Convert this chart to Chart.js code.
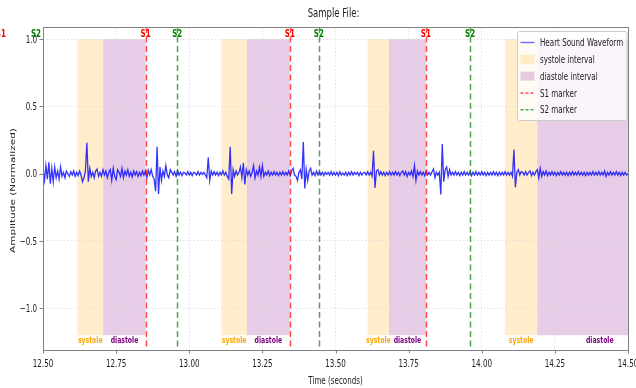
<!DOCTYPE html>
<html>
<head>
<meta charset="utf-8">
<title>Sample File:</title>
<script src="https://cdn.jsdelivr.net/npm/chart.js@4.4.0/dist/chart.umd.min.js"></script>
<style>
    html, body { margin: 0; padding: 0; background: #fff; }
    #wrap { width: 636px; height: 388px; position: relative; }
</style>
</head>
<body>
<div id="wrap"><canvas id="heartChart"></canvas></div>
<script>
// Recording window shown in the plot (one sample every 5 ms)
const sampleStart = 12.5;
const sampleStep = 0.005;

// Normalized amplitude, 10 samples per row (= 0.05 s)
const amplitude = [
    0.03, -0.05, 0.06, -0.04, 0.085, -0.075, 0.04, -0.06, 0.05, -0.03,
    0.02, -0.04, 0.05, -0.02, 0.01, -0.03, 0.02, 0.00, -0.02, 0.015,
    -0.01, 0.02, -0.02, 0.01, -0.015, 0.02, -0.01, -0.06, -0.03, 0.02,
    0.23, -0.06, 0.04, -0.02, 0.01, -0.03, 0.02, 0.035, -0.02, 0.01,
    -0.02, 0.03, -0.01, 0.02, -0.03, 0.01, 0.03, -0.05, 0.04, -0.02,
    -0.045, 0.03, 0.01, -0.02, 0.04, -0.03, 0.02, -0.01, 0.03, -0.02,
    0.01, -0.025, 0.02, -0.01, 0.015, -0.02, 0.01, -0.015, 0.02, -0.01,
    0.02, -0.03, 0.025, -0.01, 0.03, -0.02, -0.04, -0.13, 0.20, -0.15,
    0.05, -0.05, 0.02, -0.02, 0.06, -0.01, -0.03, 0.03, 0.01, -0.01,
    0.015, -0.02, 0.025, -0.01, 0.01, -0.015, 0.01, 0.005, -0.01, 0.015,
    -0.01, 0.01, -0.015, 0.01, 0.005, -0.01, 0.015, -0.01, 0.01, -0.005,
    0.01, -0.01, -0.03, 0.12, -0.05, 0.02, -0.01, 0.015, -0.01, 0.01,
    -0.015, 0.01, -0.01, 0.02, -0.01, 0.01, -0.02, -0.04, 0.20, -0.15,
    0.03, -0.02, 0.02, -0.01, 0.01, 0.05, -0.03, 0.08, -0.08, 0.03,
    -0.01, 0.02, -0.02, 0.01, 0.06, -0.03, 0.02, -0.01, 0.05, -0.02,
    0.06, -0.02, 0.01, -0.01, 0.02, -0.015, 0.01, -0.01, 0.015, -0.01,
    0.01, -0.015, 0.01, -0.01, 0.015, -0.01, 0.01, -0.01, 0.02, -0.015,
    0.02, 0.04, -0.01, -0.02, -0.05, 0.01, 0.03, -0.04, 0.235, -0.11,
    0.03, -0.05, 0.02, 0.04, -0.01, 0.01, -0.015, 0.02, -0.01, 0.015,
    -0.01, 0.01, -0.015, 0.01, -0.005, 0.01, -0.01, 0.015, -0.01, 0.01,
    -0.01, 0.01, -0.015, 0.015, -0.01, 0.005, -0.01, 0.01, -0.015, 0.01,
    -0.01, 0.015, -0.01, 0.01, -0.005, 0.01, -0.015, 0.01, -0.01, 0.005,
    0.01, -0.01, 0.015, -0.01, 0.01, -0.02, 0.17, -0.105, 0.02, 0.03,
    -0.01, 0.015, -0.01, 0.01, -0.015, 0.01, -0.01, 0.015, -0.01, 0.01,
    -0.01, 0.015, -0.01, 0.01, -0.015, 0.01, 0.02, -0.01, 0.015, -0.02,
    0.01, -0.01, 0.02, -0.02, 0.06, -0.05, 0.02, -0.01, 0.015, -0.01,
    0.01, -0.015, 0.02, -0.01, 0.01, -0.01, 0.015, 0.035, -0.03, 0.01,
    -0.01, 0.01, -0.155, 0.22, -0.06, 0.03, 0.05, -0.02, 0.03, -0.01,
    0.01, -0.01, 0.015, -0.01, 0.01, -0.015, 0.01, -0.01, 0.015, -0.01,
    0.01, -0.01, 0.015, -0.015, 0.01, -0.01, 0.015, -0.01, 0.01, -0.01,
    0.015, -0.01, 0.01, -0.015, 0.01, -0.01, 0.01, -0.01, 0.015, -0.01,
    0.01, -0.015, 0.01, -0.01, 0.01, -0.01, 0.015, -0.01, 0.01, -0.01,
    0.01, -0.02, 0.18, -0.10, 0.01, 0.03, -0.01, 0.015, 0.01, -0.01,
    0.015, -0.01, 0.01, 0.02, -0.015, 0.01, -0.01, 0.015, 0.03, -0.03,
    0.04, -0.02, 0.015, -0.01, 0.02, -0.015, 0.01, -0.01, 0.015, -0.01,
    0.01, -0.015, 0.01, -0.01, 0.015, -0.01, 0.01, -0.01, 0.01, -0.015,
    0.01, -0.01, 0.015, -0.01, 0.01, -0.01, 0.015, -0.01, 0.01, -0.01,
    0.01, -0.015, 0.01, -0.01, 0.01, -0.01, 0.015, -0.01, 0.01, -0.01,
    0.015, -0.01, 0.01, -0.01, 0.02, -0.02, 0.01, -0.01, 0.015, -0.01,
    0.01, -0.01, 0.015, -0.01, 0.01, -0.015, 0.01, -0.01, 0.01, -0.01,
    0.0
];

// Cardiac cycle segmentation (seconds)
const systoleIntervals = [[12.617, 12.706], [13.110, 13.197], [13.610, 13.683], [14.079, 14.190]];
const diastoleIntervals = [[12.706, 12.851], [13.197, 13.344], [13.683, 13.809], [14.190, 14.617]];
const s1Markers = [12.356, 12.851, 13.344, 13.809];
const s2Markers = [12.476, 12.959, 13.443, 13.960];

// Axis ticks
const xTicks = [12.5, 12.75, 13.0, 13.25, 13.5, 13.75, 14.0, 14.25, 14.5];
const xTickLabels = ['12.50', '12.75', '13.00', '13.25', '13.50', '13.75', '14.00', '14.25', '14.50'];
const yTicks = [-1.0, -0.5, 0.0, 0.5, 1.0];
const yTickLabels = ['\u22121.0', '\u22120.5', '0.0', '0.5', '1.0'];

const legendLabels = ['Heart Sound Waveform', 'systole interval', 'diastole interval', 'S1 marker', 'S2 marker'];

// styling
const squeeze = 0.68;   // glyphs in the picture are narrow
const textColor = '#222222';
const spineColor = '#808080';
const waveColor = 'rgba(0, 0, 255, 0.8)';
const systoleFill = 'rgba(255, 165, 0, 0.2)';
const diastoleFill = 'rgba(128, 0, 128, 0.2)';
const s1Color = 'rgba(255, 0, 0, 0.7)';
const s2Color = 'rgba(0, 128, 0, 0.7)';
const spanTop = 1.0;
const spanBottom = -1.2;

const wavePoints = amplitude.map((a, i) => ({ x: sampleStart + i * sampleStep, y: a }));

function narrowText(ctx, str, x, y, font, color, align, baseline) {
    ctx.save();
    ctx.translate(x, y);
    ctx.scale(squeeze, 1);
    ctx.font = font;
    ctx.fillStyle = color;
    ctx.textAlign = align || 'center';
    ctx.textBaseline = baseline || 'alphabetic';
    ctx.fillText(str, 0, 0);
    ctx.restore();
}

const overlayPlugin = {
    id: 'overlay',
    // shaded intervals sit under the grid and the waveform
    beforeDraw(chart) {
        const { ctx, chartArea: a, scales: { x, y } } = chart;
        const top = y.getPixelForValue(spanTop);
        const bottom = y.getPixelForValue(spanBottom);
        ctx.save();
        ctx.beginPath();
        ctx.rect(a.left, a.top, a.right - a.left, a.bottom - a.top);
        ctx.clip();
        const fillSpans = (list, color) => {
            ctx.fillStyle = color;
            list.forEach(([s, e]) => {
                const x0 = x.getPixelForValue(s);
                const x1 = x.getPixelForValue(e);
                ctx.fillRect(x0, top, x1 - x0, bottom - top);
            });
        };
        fillSpans(systoleIntervals, systoleFill);
        fillSpans(diastoleIntervals, diastoleFill);
        ctx.restore();
    },
    afterDatasetsDraw(chart) {
        const { ctx, chartArea: a, scales: { x, y } } = chart;

        // S1 / S2 dashed lines
        const drawMarkers = (list, color) => {
            list.forEach(t => {
                if (t < x.min || t > x.max) return;
                const px = Math.round(x.getPixelForValue(t)) + 0.5;
                ctx.save();
                ctx.strokeStyle = color;
                ctx.lineWidth = 1.5;
                ctx.setLineDash([6, 3.5]);
                ctx.beginPath();
                ctx.moveTo(px, a.top);
                ctx.lineTo(px, a.bottom);
                ctx.stroke();
                ctx.restore();
            });
        };
        drawMarkers(s1Markers, s1Color);
        drawMarkers(s2Markers, s2Color);

        // marker names above the lines (not clipped, as in the original)
        const nameY = y.getPixelForValue(1.05) + 4.5;
        s1Markers.forEach(t => narrowText(ctx, 'S1', x.getPixelForValue(t), nameY, 'bold 10.5px "DejaVu Sans"', '#ff0000'));
        s2Markers.forEach(t => narrowText(ctx, 'S2', x.getPixelForValue(t), nameY, 'bold 10.5px "DejaVu Sans"', '#008000'));

        // interval names under the shading
        const labelY = y.getPixelForValue(-1.25) + 1.5;
        systoleIntervals.forEach(([s, e]) => {
            narrowText(ctx, 'systole', x.getPixelForValue((s + e) / 2), labelY, 'bold 9px "DejaVu Sans"', '#ffa500');
        });
        diastoleIntervals.forEach(([s, e]) => {
            narrowText(ctx, 'diastole', x.getPixelForValue((s + e) / 2), labelY, 'bold 9px "DejaVu Sans"', '#800080');
        });
    },
    afterDraw(chart) {
        const { ctx, chartArea: a, scales: { x, y } } = chart;

        // spines
        ctx.save();
        ctx.strokeStyle = spineColor;
        ctx.lineWidth = 1;
        ctx.strokeRect(Math.round(a.left) + 0.5, Math.round(a.top) + 0.5,
            Math.round(a.right - a.left), Math.round(a.bottom - a.top));

        // tick marks
        ctx.beginPath();
        xTicks.forEach(v => {
            const px = Math.round(x.getPixelForValue(v)) + 0.5;
            ctx.moveTo(px, a.bottom);
            ctx.lineTo(px, a.bottom + 3.5);
        });
        yTicks.forEach(v => {
            const py = Math.round(y.getPixelForValue(v)) + 0.5;
            ctx.moveTo(a.left, py);
            ctx.lineTo(a.left - 3.5, py);
        });
        ctx.stroke();
        ctx.restore();

        // tick labels
        xTicks.forEach((v, i) => narrowText(ctx, xTickLabels[i], x.getPixelForValue(v), a.bottom + 16.5, '10.5px "DejaVu Sans"', textColor));
        yTicks.forEach((v, i) => narrowText(ctx, yTickLabels[i], a.left - 6, y.getPixelForValue(v) + 3.6, '10.5px "DejaVu Sans"', textColor, 'right'));

        // titles
        const midX = (a.left + a.right) / 2;
        narrowText(ctx, 'Sample File:', midX - 2, 16.5, '12.5px "DejaVu Sans"', textColor);
        narrowText(ctx, 'Time (seconds)', midX, 384, '10.5px "DejaVu Sans"', textColor);
        ctx.save();
        ctx.translate(13, (a.top + a.bottom) / 2 + 2);
        ctx.rotate(-Math.PI / 2);
        ctx.scale(1, squeeze);
        ctx.font = '10.5px "DejaVu Sans"';
        ctx.fillStyle = textColor;
        ctx.textAlign = 'center';
        ctx.textBaseline = 'middle';
        ctx.fillText('Amplitude (Normalized)', 0, 0);
        ctx.restore();

        // legend
        const lx = 517.5, ly = 31.5, lw = 109.5, lh = 89;
        ctx.save();
        ctx.fillStyle = 'rgba(255, 255, 255, 0.8)';
        ctx.strokeStyle = '#cccccc';
        ctx.lineWidth = 1;
        ctx.beginPath();
        ctx.roundRect(lx, ly, lw, lh, 2);
        ctx.fill();
        ctx.stroke();
        ctx.restore();

        legendLabels.forEach((label, i) => {
            const cy = 42.5 + i * 16.8;
            const hx0 = 520.5, hx1 = 534.5;
            ctx.save();
            if (i === 0) {
                ctx.strokeStyle = 'rgba(0, 0, 255, 0.55)';
                ctx.lineWidth = 1.5;
                ctx.beginPath();
                ctx.moveTo(hx0, cy);
                ctx.lineTo(hx1, cy);
                ctx.stroke();
            } else if (i === 1 || i === 2) {
                ctx.fillStyle = i === 1 ? systoleFill : diastoleFill;
                ctx.fillRect(hx0, cy - 4.5, hx1 - hx0, 9);
            } else {
                ctx.strokeStyle = i === 3 ? s1Color : s2Color;
                ctx.lineWidth = 1.5;
                ctx.setLineDash([3, 2]);
                ctx.beginPath();
                ctx.moveTo(hx0, cy);
                ctx.lineTo(hx1, cy);
                ctx.stroke();
            }
            ctx.restore();
            narrowText(ctx, label, 540, cy + 3.6, '10.5px "DejaVu Sans"', textColor, 'left');
        });
    }
};

const ctx = document.getElementById('heartChart').getContext('2d');
const heartChart = new Chart(ctx, {
    type: 'line',
    data: {
        datasets: [{
            label: legendLabels[0],
            data: wavePoints,
            borderColor: waveColor,
            borderWidth: 1.3,
            pointRadius: 0,
            tension: 0,
            fill: false
        }]
    },
    options: {
        responsive: true,
        maintainAspectRatio: false,
        animation: false,
        layout: { padding: { top: 27, right: 8, left: 0, bottom: 0 } },
        plugins: {
            legend: { display: false },
            title: { display: false },
            tooltip: { enabled: false }
        },
        scales: {
            x: {
                type: 'linear',
                min: 12.5,
                max: 14.5,
                afterBuildTicks: scale => { scale.ticks = xTicks.map(v => ({ value: v })); },
                afterFit: scale => { scale.height = 38; },
                ticks: { display: false },
                grid: { color: '#dcdcdc', lineWidth: 0.8, drawTicks: false },
                border: { display: false, dash: [1.5, 2] }
            },
            y: {
                type: 'linear',
                min: -1.31,
                max: 1.09,
                afterBuildTicks: scale => { scale.ticks = yTicks.map(v => ({ value: v })); },
                afterFit: scale => { scale.width = 43; },
                ticks: { display: false },
                grid: { color: '#dcdcdc', lineWidth: 0.8, drawTicks: false },
                border: { display: false, dash: [1.5, 2] }
            }
        }
    },
    plugins: [overlayPlugin]
});
</script>
</body>
</html>
